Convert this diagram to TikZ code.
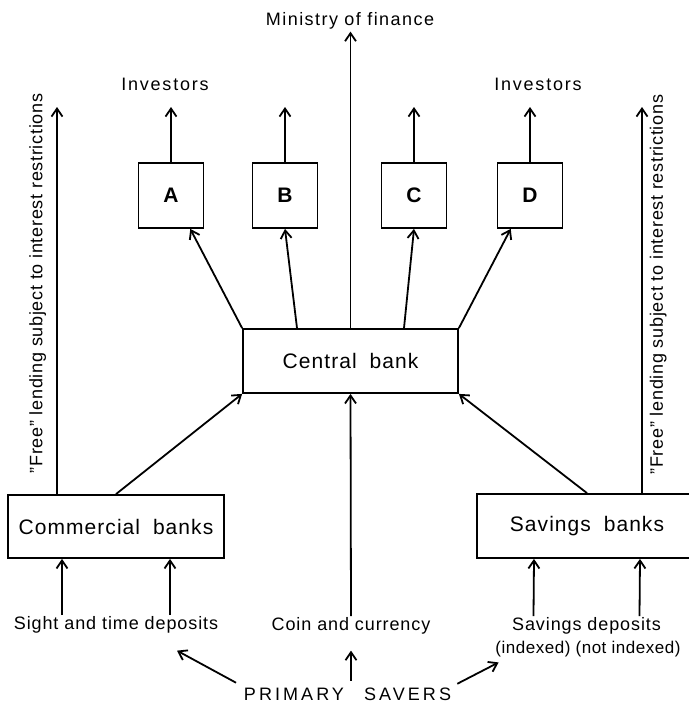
\documentclass[tikz,border=0pt]{standalone}
\usepackage{fontspec}
\setmainfont{Liberation Sans}
\usetikzlibrary{arrows.meta}

\tikzset{
  box/.style={draw, inner sep=0pt, font=\fontsize{10.5}{12}\selectfont\addfontfeatures{LetterSpace=5}},
  letterbox/.style={box, minimum size=32.5pt, font=\fontsize{10.5}{12}\selectfont\bfseries},
  lbl/.style={inner sep=0pt, anchor=base, font=\fontsize{9}{11}\selectfont\addfontfeatures{LetterSpace=#1}},
  lbl/.default=5,
  sidelbl/.style={inner sep=0pt, font=\fontsize{9}{11}\selectfont\addfontfeatures{LetterSpace=4}}
}

\begin{document}
\begin{tikzpicture}[x=0.5pt, y=-0.5pt, line width=0.9pt, >={Straight Barb[length=4pt,width=5.5pt]}]
  \useasboundingbox (0,0) rectangle (689,702);
  % boxes
  \node[letterbox] (A) at (171,195.5) {A};
  \node[letterbox] (B) at (285,195.5) {B};
  \node[letterbox] (C) at (414,195.5) {C};
  \node[letterbox] (D) at (530,195.5) {D};
  \node[box, minimum width=107.5pt, minimum height=32pt] (cb) at (350.5,361) {Central\hspace{3pt} bank};
  \node[box, minimum width=108pt, minimum height=31.5pt] (com) at (116,526.5) {Commercial\hspace{3pt} banks};
  \node[box, minimum width=110pt, minimum height=32pt] (sav) at (587,526) {Savings\hspace{3pt} banks};
  % texts
  \node[lbl=8] (mof) at (350,25) {Ministry of finance};
  \node[lbl=10] (invl) at (165,90) {Investors};
  \node[lbl=10] (invr) at (538,90) {Investors};
  \node[lbl] (sight) at (116,629) {Sight and time deposits};
  \node[lbl] (coin) at (351,630) {Coin and currency};
  \node[lbl] (savdep) at (586.5,630) {Savings deposits};
  \node[lbl, font=\fontsize{8.5}{10}\selectfont\addfontfeatures{LetterSpace=3}] (idx) at (588,653) {(indexed) (not indexed)};
  \node[lbl, font=\fontsize{9}{10}\selectfont\addfontfeatures{LetterSpace=17}] (ps) at (347.5,700) {PRIMARY\hspace{6pt} SAVERS};
  \coordinate (top) at (0,107);
  \coordinate (fl) at (57,107);
  \coordinate (fr) at (642,107);

  % flows
  \foreach \n in {A,B,C,D}
    \draw[->] (\n.north) -- (\n.north |- top);
  \draw[->, shorten >=1pt] (cb.north) -- (cb.north |- mof.south);
  \draw[->] (cb.north west) -- (A.-60);
  \draw[->] ([xshift=-26.75pt]cb.north) -- (B.south);
  \draw[->] ([xshift=26.75pt]cb.north) -- (C.south);
  \draw[->] (cb.north east) -- (D.-120);
  \draw[->] (com.north) -- (cb.south west);
  \draw[->] (sav.north) -- (cb.south east);
  \draw[->] (coin.north) -- (cb.south);
  \draw[->] (com.north -| fl) -- (fl)
    node[sidelbl, pos=0.544, sloped, above=5pt] {"Free" lending subject to interest restrictions};
  \draw[->] (sav.north -| fr) -- (fr)
    node[sidelbl, pos=0.54, sloped, below=3.5pt] {"Free" lending subject to interest restrictions};
  \foreach \s in {-27pt,27pt}
    \draw[->] ([xshift=\s]sight.north) -- ([xshift=\s]com.south);
  \foreach \s in {-26.5pt,26.5pt}
    \draw[->] ([xshift=\s]savdep.north) -- ([xshift=\s]sav.south);
  \draw[->, shorten <=4pt] (ps.north west) -- ([xshift=30.5pt,yshift=-8.5pt]sight.south);
  \draw[->, shorten <=3pt, shorten >=8pt] (coin.south |- ps.north) -- (coin.south);
  \draw[->, shorten <=3pt] (ps.north east) -- ([xshift=2pt,yshift=-2.5pt]idx.south west);
\end{tikzpicture}
\end{document}
